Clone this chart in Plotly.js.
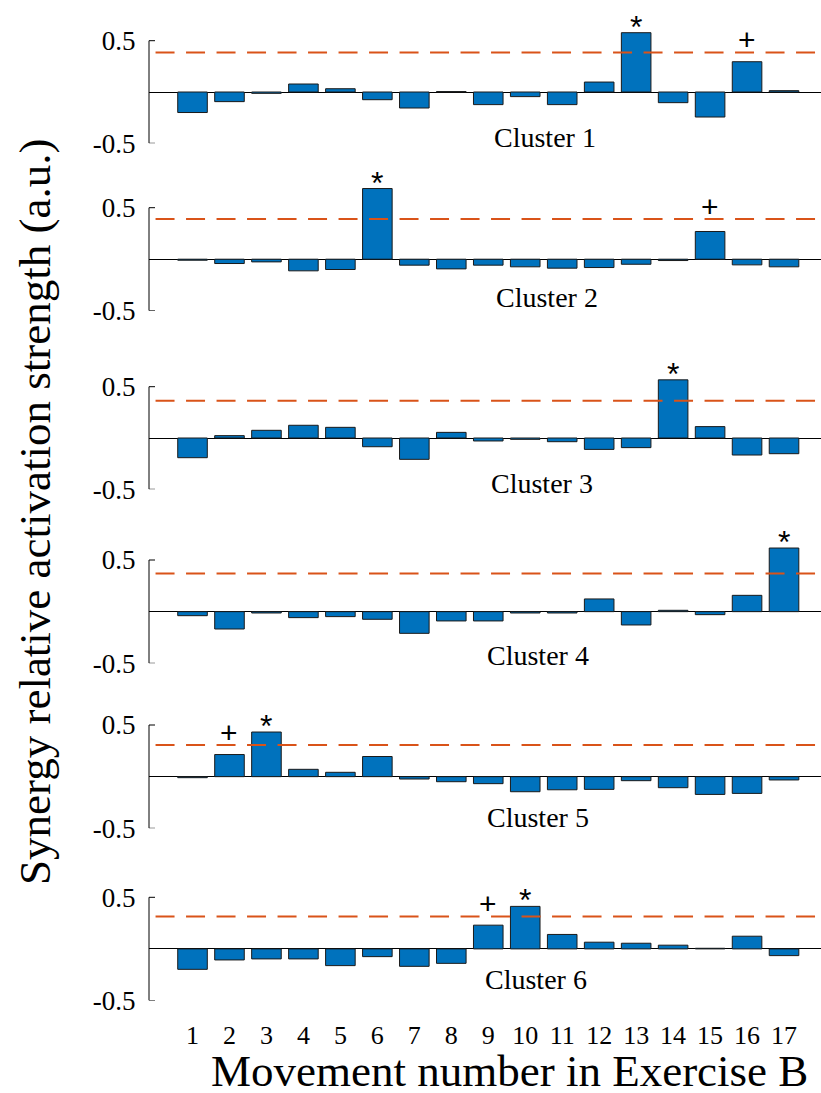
<!DOCTYPE html>
<html>
<head>
<meta charset="utf-8">
<script src="https://cdn.plot.ly/plotly-3.0.1.min.js"></script>
<style>html,body{margin:0;padding:0;background:#fff;}#chart{width:821px;height:1093px;}</style>
</head>
<body>
<div id="chart"></div>
<script>
// ---- data ----
var movements = [1,2,3,4,5,6,7,8,9,10,11,12,13,14,15,16,17];
var tickLabels = ['1','2','3','4','5','6','7','8','9','10','11','12','13','14','15','16','17'];
var clusterNames = ['Cluster 1','Cluster 2','Cluster 3','Cluster 4','Cluster 5','Cluster 6'];
var cluster1 = [-0.200,-0.094,-0.013,0.078,0.032,-0.075,-0.156,0.004,-0.123,-0.045,-0.123,0.097,0.578,-0.104,-0.244,0.295,0.013];
var cluster2 = [-0.010,-0.042,-0.026,-0.113,-0.100,0.686,-0.058,-0.094,-0.058,-0.074,-0.087,-0.081,-0.049,-0.013,0.269,-0.055,-0.074];
var cluster3 = [-0.192,0.023,0.075,0.124,0.104,-0.085,-0.208,0.055,-0.029,-0.013,-0.036,-0.111,-0.094,0.567,0.111,-0.166,-0.153];
var cluster4 = [-0.039,-0.168,-0.013,-0.058,-0.048,-0.074,-0.210,-0.090,-0.090,-0.013,-0.013,0.123,-0.129,0.013,-0.029,0.158,0.616];
var cluster5 = [-0.010,0.214,0.432,0.071,0.042,0.195,-0.023,-0.049,-0.068,-0.146,-0.127,-0.123,-0.039,-0.107,-0.172,-0.162,-0.032];
var cluster6 = [-0.198,-0.107,-0.097,-0.097,-0.162,-0.075,-0.169,-0.140,0.230,0.412,0.140,0.065,0.055,0.036,0.006,0.123,-0.065];
var thresholds = [0.384,0.390,0.364,0.370,0.306,0.313];
var starMovements = [[13],[6],[14],[17],[3],[10]];
var plusMovements = [[16],[15],[],[],[2],[9]];
var yTickVals = [-0.5, 0.5];
var yTickText = ['-0.5', '0.5'];

// ---- layout configuration (pixels) ----
var W = 821, H = 1093;
var axisTopPx = [40.7, 207.7, 386.7, 560.0, 725.0, 897.3];   // pixel of y=0.5
var axisBotPx = [143.3, 310.7, 489.3, 663.3, 828.3, 1000.5]; // pixel of y=-0.5
var labelPos = [[10.53,-0.44],[10.58,-0.375],[10.45,-0.44],[10.35,-0.42],[10.35,-0.40],[10.28,-0.30]];
var axisXPx = 149;
var tickStubPx = 6;
var yMax = 0.8;

var series = [cluster1, cluster2, cluster3, cluster4, cluster5, cluster6];
var serif = 'Liberation Serif';
var sans = 'Liberation Sans';

var traces = [];
var layout = {
  width: W, height: H,
  margin: {l:0, r:0, t:0, b:0},
  paper_bgcolor: '#fff', plot_bgcolor: 'rgba(0,0,0,0)',
  showlegend: false,
  font: {family: serif, color: '#000'},
  xaxis: {
    domain: [axisXPx / W, 1],
    range: [-0.177, 18.0],
    anchor: 'y6',
    tickvals: movements, ticktext: tickLabels,
    tickfont: {family: serif, size: 26, color: '#000'},
    ticks: 'outside', ticklen: 11, tickcolor: 'rgba(0,0,0,0)',
    showline: false, showgrid: false, zeroline: false
  },
  shapes: [],
  annotations: []
};

for (var k = 0; k < 6; k++) {
  var yname = k === 0 ? 'y' : 'y' + (k + 1);
  var axName = k === 0 ? 'yaxis' : 'yaxis' + (k + 1);
  var unit = axisBotPx[k] - axisTopPx[k];
  var topPx = axisTopPx[k] - (yMax - 0.5) * unit;
  layout[axName] = {
    domain: [1 - axisBotPx[k] / H, 1 - topPx / H],
    range: [-0.5, yMax],
    anchor: 'x',
    tickvals: yTickVals, ticktext: yTickText,
    tickfont: {family: serif, size: 27, color: '#000'},
    ticks: 'outside', ticklen: 7, tickcolor: 'rgba(0,0,0,0)',
    showline: false, showgrid: false,
    zeroline: true, zerolinecolor: '#000', zerolinewidth: 1
  };
  traces.push({
    type: 'bar', x: movements, y: series[k], xaxis: 'x', yaxis: yname,
    width: 0.8,
    marker: {color: '#0072BD', line: {color: '#1a1a1a', width: 1}},
    hoverinfo: 'x+y'
  });
  // y-axis line (only from -0.5 to 0.5) with inward tick stubs
  layout.shapes.push({type: 'line', xref: 'paper', yref: yname,
    x0: axisXPx / W, x1: axisXPx / W, y0: yTickVals[0], y1: yTickVals[1],
    line: {color: '#000', width: 1}});
  yTickVals.forEach(function (v) {
    layout.shapes.push({type: 'line', xref: 'paper', yref: yname,
      x0: axisXPx / W, x1: (axisXPx + tickStubPx) / W, y0: v, y1: v,
      line: {color: '#000', width: 1}});
  });
  // threshold line
  layout.shapes.push({type: 'line', xref: 'x', yref: yname,
    x0: 0, x1: 18, y0: thresholds[k], y1: thresholds[k],
    line: {color: '#D95319', width: 2, dash: '19px,11.5px'}});
  // cluster label
  layout.annotations.push({xref: 'x', yref: yname, x: labelPos[k][0], y: labelPos[k][1],
    text: clusterNames[k], showarrow: false, xanchor: 'center', yanchor: 'middle',
    font: {family: serif, size: 28, color: '#000'}});
  starMovements[k].forEach(function (m) {
    layout.annotations.push({xref: 'x', yref: yname, x: m, y: series[k][m - 1],
      text: '*', showarrow: false, xanchor: 'center', yanchor: 'middle', yshift: 6,
      font: {family: sans, size: 32, color: '#000'}});
  });
  plusMovements[k].forEach(function (m) {
    layout.annotations.push({xref: 'x', yref: yname, x: m, y: thresholds[k],
      text: '+', showarrow: false, xanchor: 'center', yanchor: 'middle', yshift: 13,
      font: {family: sans, size: 30, color: '#000'}});
  });
}

// axis titles
layout.annotations.push({xref: 'paper', yref: 'paper', x: 509 / W, y: 1 - 1071 / H,
  text: 'Movement number in Exercise B', showarrow: false, xanchor: 'center', yanchor: 'middle',
  font: {family: serif, size: 45, color: '#000'}});
layout.annotations.push({xref: 'paper', yref: 'paper', x: 35 / W, y: 1 - 512 / H,
  text: 'Synergy relative activation strength (a.u.)', showarrow: false, textangle: -90,
  xanchor: 'center', yanchor: 'middle',
  font: {family: serif, size: 45, color: '#000'}});

Plotly.newPlot('chart', traces, layout, {displayModeBar: false, staticPlot: true});
</script>
</body>
</html>
